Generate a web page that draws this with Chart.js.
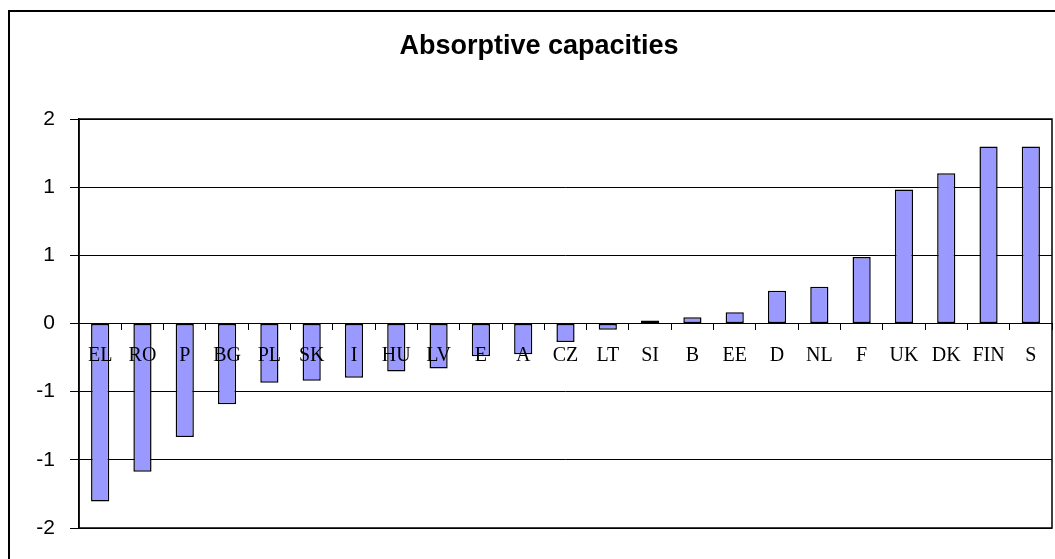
<!DOCTYPE html>
<html>
<head>
<meta charset="utf-8">
<title>Absorptive capacities</title>
<script src="https://cdn.jsdelivr.net/npm/chart.js@4/dist/chart.umd.min.js"></script>
<style>
  html, body { margin: 0; padding: 0; background: #fff; }
  #wrap { width: 1055px; height: 559px; position: relative; overflow: hidden; }
</style>
</head>
<body>
<div id="wrap"><canvas id="chart" width="1055" height="559"></canvas></div>
<script>
// Country codes along the category axis
const categories = ['EL', 'RO', 'P', 'BG', 'PL', 'SK', 'I', 'HU', 'LV', 'E', 'A', 'CZ',
                    'LT', 'SI', 'B', 'EE', 'D', 'NL', 'F', 'UK', 'DK', 'FIN', 'S'];

// Absorptive capacity score per country
const scores = [-1.74, -1.45, -1.11, -0.79, -0.58, -0.56, -0.53, -0.47, -0.44, -0.32, -0.30, -0.18,
                -0.06, 0.03, 0.06, 0.11, 0.32, 0.36, 0.65, 1.31, 1.47, 1.73, 1.73];

// Value-axis ticks (step of 2/3) and their integer-formatted labels
const yTickValues = [2, 4 / 3, 2 / 3, 0, -2 / 3, -4 / 3, -2];
const yTickLabels = ['2', '1', '1', '0', '-1', '-1', '-2'];

const chartTitle = 'Absorptive capacities';

// White page, outer frame and the heading
const framePlugin = {
  id: 'frame',
  beforeDraw(chart) {
    const ctx = chart.ctx;
    ctx.save();
    ctx.fillStyle = '#fff';
    ctx.fillRect(0, 0, chart.width, chart.height);
    ctx.strokeStyle = '#000';
    ctx.lineWidth = 2;
    ctx.strokeRect(9, 11, 1200, 700);
    ctx.fillStyle = '#000';
    ctx.font = 'bold 27px "Liberation Sans", Arial, sans-serif';
    ctx.textAlign = 'center';
    ctx.textBaseline = 'middle';
    ctx.fillText(chartTitle, 539, 47);
    ctx.restore();
  },
  afterDatasetsDraw(chart) {
    const a = chart.chartArea;
    const ctx = chart.ctx;
    ctx.save();
    ctx.strokeStyle = '#000';
    ctx.lineWidth = 1.5;
    ctx.strokeRect(a.left, a.top, a.right - a.left, a.bottom - a.top);
    ctx.restore();
  }
};

new Chart(document.getElementById('chart'), {
  type: 'bar',
  data: {
    labels: categories,
    datasets: [{
      data: scores,
      backgroundColor: '#9999FF',
      borderColor: '#000',
      borderWidth: 1.5,
      borderSkipped: false,
      barPercentage: 0.43,
      categoryPercentage: 1.0
    }]
  },
  options: {
    responsive: false,
    animation: false,
    devicePixelRatio: 1,
    layout: { padding: { top: 119, right: 3, bottom: 31, left: 0 } },
    plugins: {
      legend: { display: false },
      title: { display: false },
      tooltip: { enabled: false }
    },
    scales: {
      x: {
        type: 'category',
        position: { y: 0 },
        offset: true,
        grid: {
          offset: true,
          drawOnChartArea: false,
          drawTicks: true,
          tickLength: 6,
          color: '#000',
          lineWidth: 1,
          z: 1
        },
        border: { display: true, color: '#000', width: 1, z: 1 },
        ticks: {
          z: 2,
          color: '#000',
          padding: 14,
          maxRotation: 0,
          autoSkip: false,
          font: { family: '"Liberation Serif", "Times New Roman", serif', size: 20 }
        }
      },
      y: {
        min: -2,
        max: 2,
        afterBuildTicks(scale) {
          scale.ticks = yTickValues.map(v => ({ value: v }));
        },
        afterFit(scale) {
          scale.width = 79;
        },
        grid: {
          color: '#000',
          lineWidth: 1,
          tickLength: 9,
          drawTicks: true
        },
        border: { display: true, color: '#000', width: 1.5 },
        ticks: {
          color: '#000',
          padding: 15,
          font: { family: '"Liberation Sans", Arial, sans-serif', size: 21 },
          callback(value, index) {
            return yTickLabels[index];
          }
        }
      }
    }
  },
  plugins: [framePlugin]
});
</script>
</body>
</html>
